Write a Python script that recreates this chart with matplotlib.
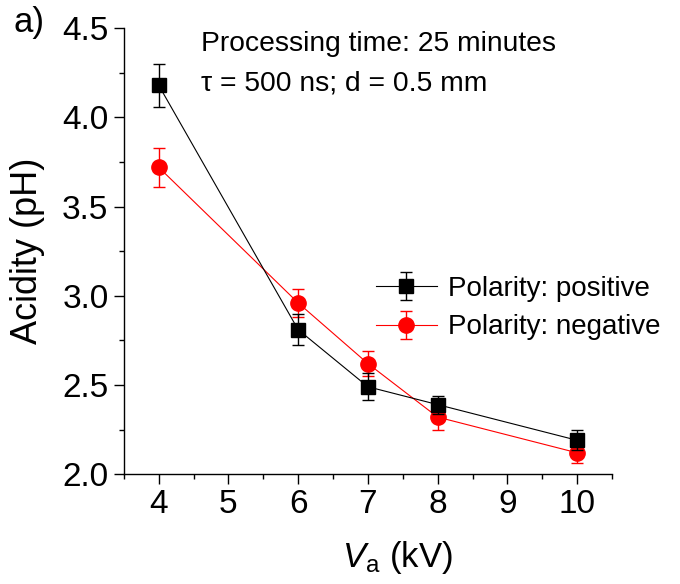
import numpy as np
import matplotlib
matplotlib.use("Agg")
import matplotlib.pyplot as plt

plt.rcParams['font.family'] = ['Liberation Sans', 'DejaVu Sans']
plt.rcParams['mathtext.fontset'] = 'custom'
plt.rcParams['mathtext.rm'] = 'Liberation Sans'
plt.rcParams['mathtext.it'] = 'Liberation Sans:italic'

voltage = [4, 6, 7, 8, 10]
ph_pos = [4.18, 2.81, 2.49, 2.39, 2.19]
err_pos = [0.12, 0.085, 0.075, 0.05, 0.055]
ph_neg = [3.72, 2.96, 2.62, 2.32, 2.12]
err_neg = [0.11, 0.08, 0.07, 0.07, 0.06]

fig = plt.figure(figsize=(6.8, 5.84), dpi=100)
ax = fig.add_axes([0.182, 0.188, 0.718, 0.764])

ax.errorbar(voltage, ph_pos, yerr=err_pos, color='black', marker='s', ms=10,
            lw=0.8, elinewidth=1.0, capsize=4, label='Polarity: positive', zorder=3)
ax.errorbar(voltage, ph_neg, yerr=err_neg, color='red', marker='o', ms=11,
            lw=0.8, elinewidth=1.0, capsize=4, label='Polarity: negative', zorder=2)

ax.set_xlim(3.5, 10.5)
ax.set_ylim(2.0, 4.5)
ax.set_xticks(range(4, 11))
ax.set_xticks(np.arange(3.5, 10.6, 0.5), minor=True)
ax.set_yticks([2.0, 2.5, 3.0, 3.5, 4.0, 4.5])
ax.set_yticks(np.arange(2.0, 4.51, 0.25), minor=True)
ax.set_yticklabels(['2.0', '2.5', '3.0', '3.5', '4.0', '4.5'])
ax.tick_params(which='both', direction='out', width=1.0, labelsize=24, pad=4)
ax.tick_params(which='major', length=7)
ax.tick_params(which='minor', length=3.6)
for s in ['top', 'right']:
    ax.spines[s].set_visible(False)
for s in ['left', 'bottom']:
    ax.spines[s].set_linewidth(1.0)

ax.set_ylabel('Acidity (pH)', fontsize=26, labelpad=12)
ax.set_xlabel('$V_\\mathrm{a}$ (kV)', fontsize=25)
ax.xaxis.set_label_coords(0.56, -0.145)

ax.text(4.61, 4.41, 'Processing time: 25 minutes', fontsize=20.3, va='center')
ax.text(4.61, 4.19, '\u03c4 = 500 ns; d = 0.5 mm', fontsize=20.3, va='center')
fig.text(0.02, 0.962, 'a)', fontsize=25, va='center')

ax.legend(loc='center left', bbox_to_anchor=(0.516, 0.372), frameon=False,
          fontsize=20, borderpad=0, borderaxespad=0, handlelength=2.2,
          handletextpad=0.4, labelspacing=0.45)

fig.savefig('out.png', dpi=100)
